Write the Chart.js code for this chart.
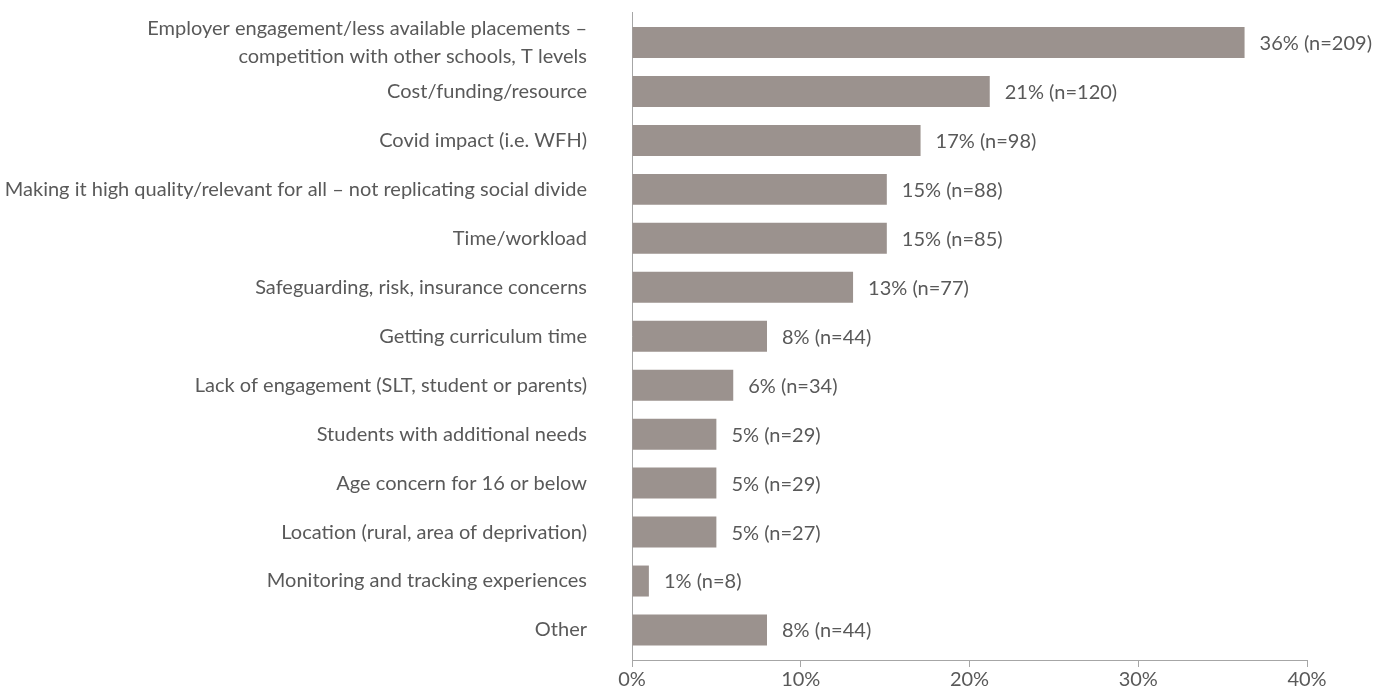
<!DOCTYPE html>
<html>
<head>
<meta charset="utf-8">
<script src="https://cdn.jsdelivr.net/npm/chart.js@4"></script>
<style>
  html, body { margin: 0; padding: 0; background: #fff; }
  #wrap { width: 1387px; height: 693px; }
</style>
</head>
<body>
<div id="wrap"><canvas id="bar"></canvas></div>
<script>
const categories = [
    ["Employer engagement/less available placements \u2013", "competition with other schools, T levels"],
    "Cost/funding/resource",
    "Covid impact (i.e. WFH)",
    "Making it high quality/relevant for all \u2013 not replicating social divide",
    "Time/workload",
    "Safeguarding, risk, insurance concerns",
    "Getting curriculum time",
    "Lack of engagement (SLT, student or parents)",
    "Students with additional needs",
    "Age concern for 16 or below",
    "Location (rural, area of deprivation)",
    "Monitoring and tracking experiences",
    "Other"
];
const values = [36.3, 21.2, 17.1, 15.1, 15.1, 13.1, 8, 6, 5, 5, 5, 1, 8];
const valueLabels = ["36% (n=209)", "21% (n=120)", "17% (n=98)", "15% (n=88)", "15% (n=85)", "13% (n=77)",
    "8% (n=44)", "6% (n=34)", "5% (n=29)", "5% (n=29)", "5% (n=27)", "1% (n=8)", "8% (n=44)"];
const xTicks = [0, 10, 20, 30, 40];

const textColor = "#595959";
const axisColor = "#a6a6a6";
const fontFamily = "Lato, 'Open Sans', sans-serif";

// draws the "36% (n=209)" text to the right of each bar
const valueLabelPlugin = {
    id: "valueLabels",
    afterDatasetsDraw(chart) {
        const ctx = chart.ctx;
        const meta = chart.getDatasetMeta(0);
        ctx.save();
        ctx.font = "20px " + fontFamily;
        ctx.fillStyle = textColor;
        ctx.textAlign = "left";
        ctx.textBaseline = "middle";
        meta.data.forEach((bar, i) => {
            ctx.fillText(valueLabels[i], bar.x + 15, bar.y + 1);
        });
        ctx.restore();
    }
};

// no extra room for labels that stick out past the axis ends
function noOverhang(scale) {
    scale.paddingTop = 0;
    scale.paddingBottom = 0;
    scale.paddingLeft = 0;
    scale.paddingRight = 0;
}

const barChartDiv = document.getElementById("bar");
const barChart = new Chart(barChartDiv,
    {
        type: "bar",
        data: {
            datasets: [
                {
                    data: values.map((v, i) => ({x: v, y: i})),
                    backgroundColor: "#9b928e",
                    borderWidth: 0,
                    barPercentage: 0.633,
                    categoryPercentage: 1
                }
            ]
        },
        plugins: [valueLabelPlugin],
        options: {
            indexAxis: "y",
            responsive: true,
            maintainAspectRatio: false,
            animation: false,
            layout: {
                padding: {top: 12, right: 80, bottom: 0, left: 0}
            },
            plugins: {
                legend: {display: false},
                tooltip: {enabled: false}
            },
            scales: {
                y: {
                    type: "linear",
                    reverse: true,
                    offset: false,
                    min: -0.623,
                    max: 12.613,
                    afterFit: (scale) => { scale.width = 632; noOverhang(scale); },
                    afterBuildTicks: (scale) => {
                        scale.ticks = categories.map((c, i) => ({value: i}));
                    },
                    grid: {display: false, drawTicks: false, offset: false},
                    border: {display: true, color: axisColor, width: 1},
                    ticks: {
                        autoSkip: false,
                        padding: 45,
                        color: textColor,
                        font: {family: fontFamily, size: 20, lineHeight: 1.4},
                        callback: (v) => categories[v]
                    }
                },
                x: {
                    type: "linear",
                    min: 0,
                    max: 40,
                    afterFit: (scale) => { scale.height = 33; noOverhang(scale); },
                    afterBuildTicks: (scale) => {
                        scale.ticks = xTicks.map(v => ({value: v}));
                    },
                    grid: {
                        display: true,
                        drawOnChartArea: false,
                        drawTicks: true,
                        tickLength: 7,
                        color: axisColor
                    },
                    border: {display: true, color: axisColor, width: 1},
                    ticks: {
                        autoSkip: false,
                        maxRotation: 0,
                        padding: 1,
                        color: textColor,
                        font: {family: fontFamily, size: 20},
                        callback: (v) => v + "%"
                    }
                }
            }
        }
    });
</script>
</body>
</html>
